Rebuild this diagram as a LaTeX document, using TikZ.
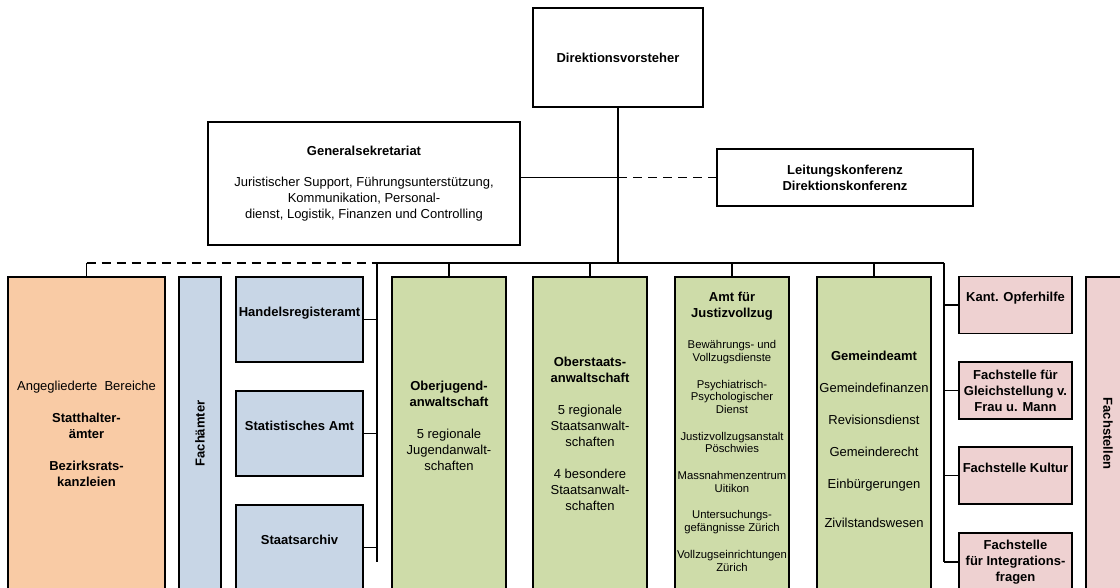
\documentclass[tikz,border=0pt]{standalone}
\usepackage{fontspec}
\setmainfont{Liberation Sans}
\usepackage{xcolor}
\usepackage{tikz}

\definecolor{angeglfill}{HTML}{F9CBA5}
\definecolor{fachfill}{HTML}{C8D6E6}
\definecolor{amtfill}{HTML}{CEDCA9}
\definecolor{stellefill}{HTML}{EED1D1}
\newcommand{\jvsmall}{\fontsize{11.3}{12.7}\selectfont}

\begin{document}
\begin{tikzpicture}[
  x=1pt, y=-1pt,
  font=\fontsize{13}{16}\selectfont,
  head/.style={draw, line width=2.2pt, fill=white, align=center, inner sep=2pt},
  unit/.style={draw, line width=1.8pt, align=center, inner sep=1pt},
  angegl/.style={unit, fill=angeglfill},
  fach/.style={unit, fill=fachfill},
  amt/.style={unit, fill=amtfill},
  stelle/.style={unit, fill=stellefill},
  link/.style={line width=1.3pt},
  linkd/.style={line width=1.5pt, dash pattern=on 9pt off 6pt},
]
\useasboundingbox (0,0) rectangle (1120,588);
\clip (0,0) rectangle (1120,588);

% Leitung
\node[head, minimum width=170pt, minimum height=99pt] (dirv) at (618,57.5) {\textbf{Direktionsvorsteher}};
\node[head, minimum width=312pt, minimum height=123pt] (gensek) at (364,183.5)
  {\textbf{Generalsekretariat}\\[15pt]
   Juristischer Support, Führungsunterstützung,\\
   Kommunikation, Personal-\\
   dienst, Logistik, Finanzen und Controlling};
\node[head, minimum width=256pt, minimum height=57pt] (leitk) at (845,177.5)
  {\textbf{Leitungskonferenz}\\ \textbf{Direktionskonferenz}};

% Angegliederte Bereiche und Fachaemter (links)
\node[angegl, minimum width=157pt, minimum height=313pt] (angegl) at (86.5,433.5)
  {Angegliederte\ \ Bereiche\\[16pt]
   \textbf{Statthalter-}\\ \textbf{ämter}\\[16pt]
   \textbf{Bezirksrats-}\\ \textbf{kanzleien}};
\node[fach, rotate=90, minimum width=313pt, minimum height=42pt] (fachaemter) at (200,433.5) {\textbf{Fachämter}};
\node[fach, minimum width=127pt, minimum height=85pt] (hreg) at (299.5,319.5) {\textbf{Handelsregisteramt}\\ \mbox{}};
\node[fach, minimum width=127pt, minimum height=85pt] (statamt) at (299.5,433.5) {\textbf{Statistisches Amt}\\ \mbox{}};
\node[fach, minimum width=127pt, minimum height=85pt] (starch) at (299.5,547.5) {\textbf{Staatsarchiv}\\ \mbox{}};

% Aemter (Mitte)
\node[amt, minimum width=114pt, minimum height=313pt] (ojug) at (449,433.5)
  {\textbf{Oberjugend-}\\ \textbf{anwaltschaft}\\[16pt]
   5 regionale\\ Jugendanwalt-\\ schaften\\ \mbox{}};
\node[amt, minimum width=114pt, minimum height=313pt] (ostaats) at (590,433.5)
  {\textbf{Oberstaats-}\\ \textbf{anwaltschaft}\\[16pt]
   5 regionale\\ Staatsanwalt-\\ schaften\\[16pt]
   4 besondere\\ Staatsanwalt-\\ schaften};
\node[amt, minimum width=114pt, minimum height=313pt] (justiz) at (732,433.5)
  {\textbf{Amt für}\\ \textbf{Justizvollzug}\\[15pt]
   \jvsmall\begin{tabular}[t]{@{}c@{}}
   Bewährungs- und\\ Vollzugsdienste\\[14pt]
   Psychiatrisch-\\ Psychologischer\\ Dienst\\[14pt]
   Justizvollzugsanstalt\\ Pöschwies\\[14pt]
   Massnahmenzentrum\\ Uitikon\\[14pt]
   Untersuchungs-\\ gefängnisse Zürich\\[14pt]
   Vollzugseinrichtungen\\ Zürich
   \end{tabular}};
\node[amt, minimum width=114pt, minimum height=325pt] (gemeinde) at (874,439.5)
  {\textbf{Gemeindeamt}\\[16pt]
   Gemeindefinanzen\\[16pt] Revisionsdienst\\[16pt] Gemeinderecht\\[16pt]
   Einbürgerungen\\[23pt] Zivilstandswesen};

% Fachstellen (rechts)
\node[stelle, minimum width=113pt, minimum height=57pt] (opfer) at (1015.5,305) {\textbf{Kant. Opferhilfe}\\ \mbox{}};
\node[stelle, minimum width=113pt, minimum height=57pt] (gleich) at (1015.5,390.5)
  {\textbf{Fachstelle für}\\ \textbf{Gleichstellung v.}\\ \textbf{Frau u. Mann}};
\node[stelle, minimum width=113pt, minimum height=57pt] (kultur) at (1015.5,475.5) {\textbf{Fachstelle Kultur}\\ \mbox{}};
\node[stelle, minimum width=113pt, minimum height=58pt] (integr) at (1015.5,562)
  {\textbf{Fachstelle}\\ \textbf{für Integrations-}\\ \textbf{fragen}};
\node[stelle, rotate=-90, minimum width=313pt, minimum height=44pt] (fachstellen) at (1108,433.5) {\textbf{Fachstellen}};

% Verbindungen
\coordinate (busl) at (377,263);
\coordinate (busr) at (944,263);
\coordinate (fachend) at (377,562);
\coordinate (gsj) at (dirv.south |- leitk.west);

\draw[link] (dirv.south) -- (dirv.south |- busl);
\draw[link] (gensek.east |- gsj) -- (gsj);
\draw[linkd] (gsj) -- (leitk.west);

\draw[link] (busl) -- (busr);
\draw[linkd] (angegl.north |- busl) -- (busl);
\draw[link] (angegl.north |- busl) -- (angegl.north);
\foreach \n in {ojug, ostaats, justiz, gemeinde}
  \draw[link] (\n.north |- busl) -- (\n.north);

\draw[link] (busl) -- (fachend);
\foreach \n in {hreg, statamt, starch}
  \draw[link] (\n.east) -- (\n.east -| busl);

\draw[link] (busr) -- (busr |- integr.west);
\foreach \n in {opfer, gleich, kultur, integr}
  \draw[link] (\n.west) -- (\n.west -| busr);

\end{tikzpicture}
\end{document}
